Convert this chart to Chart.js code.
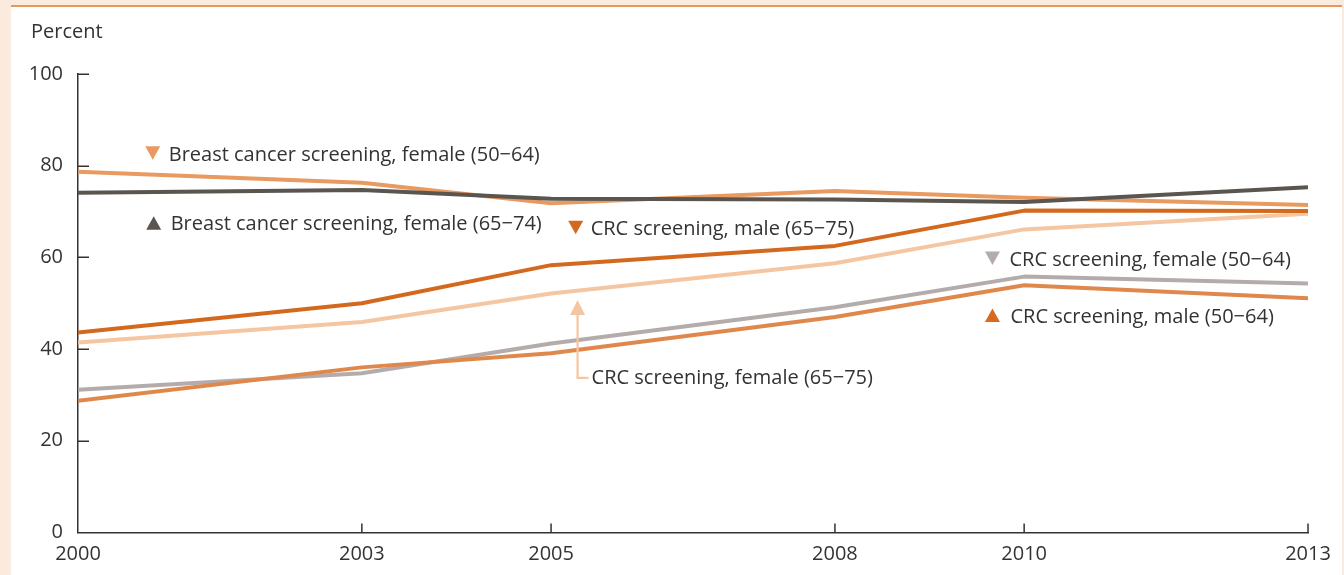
<!DOCTYPE html>
<html>
<head>
<meta charset="utf-8">
<title>Cancer screening rates, 2000–2013</title>
<script src="https://cdn.jsdelivr.net/npm/chart.js@4/dist/chart.umd.min.js"></script>
<style>
  html, body { margin: 0; padding: 0; background: #fbeade; }
  #wrap { width: 1344px; height: 575px; }
</style>
</head>
<body>
<div id="wrap"><canvas id="chart" width="1344" height="575"></canvas></div>
<script>
// Survey years and screening rates (percent)
const years = [2000, 2003, 2005, 2008, 2010, 2013];
const breastFemale50to64 = [78.7, 76.3, 71.8, 74.5, 73.0, 71.4];
const breastFemale65to74 = [74.1, 74.7, 72.8, 72.6, 72.1, 75.3];
const crcMale65to75      = [43.6, 50.0, 58.3, 62.5, 70.2, 70.1];
const crcFemale65to75    = [41.4, 45.9, 52.1, 58.7, 66.1, 69.5];
const crcFemale50to64    = [31.1, 34.7, 41.2, 49.1, 55.8, 54.3];
const crcMale50to64      = [28.7, 36.0, 39.1, 47.0, 53.9, 51.1];
const yTickValues = [0, 20, 40, 60, 80, 100];

const FONT = '"Open Sans", "Noto Sans", sans-serif';
const TEXT = '#333333';
const AXIS = '#333333';

const COLORS = {
  breast50: '#e89a60',
  breast65: '#5a554f',
  crcM65: '#d4691e',
  crcF65: '#f5c6a2',
  crcF50: '#b4acaa',
  crcM50: '#e0884c'
};

// Series labels placed beside the lines (anchor in data units: year, percent)
const seriesLabels = [
  { text: 'Breast cancer screening, female (50\u221264)', year: 2000.79, value: 82.75, marker: 'down', color: COLORS.breast50, gap: 16 },
  { text: 'Breast cancer screening, female (65\u221274)', year: 2000.80, value: 67.5,  marker: 'up',   color: COLORS.breast65, gap: 17 },
  { text: 'CRC screening, male (65\u221275)',             year: 2005.26, value: 66.5,  marker: 'down', color: COLORS.crcM65,  gap: 15 },
  { text: 'CRC screening, female (50\u221264)',           year: 2009.665, value: 59.8, marker: 'down', color: COLORS.crcF50,  gap: 17 },
  { text: 'CRC screening, male (50\u221264)',             year: 2009.665, value: 47.35, marker: 'up',  color: '#d86a20',      gap: 18 }
];
// Callout with an elbow arrow pointing up to its line
const callout = { text: 'CRC screening, female (65\u221275)', year: 2005.28, tipValue: 50.7, elbowValue: 33.7, color: COLORS.crcF65, gap: 14 };

const pagePlugin = {
  id: 'page',
  beforeDraw(chart) {
    const ctx = chart.ctx;
    ctx.save();
    ctx.fillStyle = '#fbeade';
    ctx.fillRect(0, 0, chart.width, chart.height);
    ctx.fillStyle = '#ffffff';
    ctx.fillRect(11, 7, 1331, chart.height - 7);
    ctx.fillStyle = '#e8965a';
    ctx.fillRect(11, 5, 1331, 2);
    ctx.fillStyle = TEXT;
    ctx.font = '20px ' + FONT;
    ctx.textAlign = 'left';
    ctx.textBaseline = 'alphabetic';
    ctx.fillText('Percent', 31, 38);
    ctx.restore();
  },
  afterDraw(chart) {
    const ctx = chart.ctx;
    const xs = chart.scales.x, ys = chart.scales.y;
    const area = chart.chartArea;
    ctx.save();
    // inward tick marks
    ctx.strokeStyle = AXIS;
    ctx.lineWidth = 1.5;
    ctx.beginPath();
    yTickValues.forEach(v => {
      const y = Math.round(ys.getPixelForValue(v)) + 0.25;
      if (v === 0) return;
      ctx.moveTo(area.left, y);
      ctx.lineTo(area.left + 11, y);
    });
    years.forEach(yr => {
      const x = xs.getPixelForValue(yr);
      if (yr === years[0]) return;
      ctx.moveTo(x, area.bottom);
      ctx.lineTo(x, area.bottom - 9);
    });
    ctx.stroke();

    // series labels with triangle markers
    ctx.font = '20px ' + FONT;
    ctx.textAlign = 'left';
    ctx.textBaseline = 'alphabetic';
    seriesLabels.forEach(l => {
      const cx = xs.getPixelForValue(l.year);
      const cy = ys.getPixelForValue(l.value);
      const w = 15, h = 13.5;
      ctx.fillStyle = l.color;
      ctx.beginPath();
      if (l.marker === 'down') {
        ctx.moveTo(cx - w / 2, cy - h / 2);
        ctx.lineTo(cx + w / 2, cy - h / 2);
        ctx.lineTo(cx, cy + h / 2);
      } else {
        ctx.moveTo(cx - w / 2, cy + h / 2);
        ctx.lineTo(cx + w / 2, cy + h / 2);
        ctx.lineTo(cx, cy - h / 2);
      }
      ctx.closePath();
      ctx.fill();
      ctx.fillStyle = TEXT;
      ctx.fillText(l.text, cx + l.gap, cy + 7.5);
    });

    // elbow arrow callout
    const ax = xs.getPixelForValue(callout.year);
    const tipY = ys.getPixelForValue(callout.tipValue);
    const elbowY = ys.getPixelForValue(callout.elbowValue);
    ctx.strokeStyle = callout.color;
    ctx.fillStyle = callout.color;
    ctx.lineWidth = 2.2;
    ctx.beginPath();
    ctx.moveTo(ax, tipY + 12);
    ctx.lineTo(ax, elbowY);
    ctx.lineTo(ax + 11, elbowY);
    ctx.stroke();
    ctx.beginPath();
    ctx.moveTo(ax, tipY);
    ctx.lineTo(ax + 7.5, tipY + 15);
    ctx.lineTo(ax - 7.5, tipY + 15);
    ctx.closePath();
    ctx.fill();
    ctx.fillStyle = TEXT;
    ctx.fillText(callout.text, ax + callout.gap, elbowY + 6);
    ctx.restore();
  }
};

function series(label, data, color, order) {
  return {
    label, order,
    data: data.map((v, i) => ({ x: years[i], y: v })),
    borderColor: color,
    backgroundColor: color,
    borderWidth: 4,
    pointRadius: 0,
    pointHoverRadius: 0,
    tension: 0,
    fill: false,
    borderJoinStyle: 'round',
    borderCapStyle: 'butt'
  };
}

new Chart(document.getElementById('chart'), {
  type: 'line',
  data: {
    datasets: [
      series('Breast cancer screening, female (65–74)', breastFemale65to74, COLORS.breast65, 1),
      series('Breast cancer screening, female (50–64)', breastFemale50to64, COLORS.breast50, 2),
      series('CRC screening, male (65–75)', crcMale65to75, COLORS.crcM65, 3),
      series('CRC screening, female (65–75)', crcFemale65to75, COLORS.crcF65, 4),
      series('CRC screening, female (50–64)', crcFemale50to64, COLORS.crcF50, 6),
      series('CRC screening, male (50–64)', crcMale50to64, COLORS.crcM50, 5)
    ]
  },
  options: {
    responsive: false,
    animation: false,
    devicePixelRatio: 1,
    layout: { padding: { top: 74, right: 36, left: 0, bottom: 0 } },
    plugins: { legend: { display: false }, tooltip: { enabled: false } },
    scales: {
      x: {
        type: 'linear',
        min: 2000, max: 2013,
        afterBuildTicks(scale) { scale.ticks = years.map(v => ({ value: v })); },
        afterFit(scale) { scale.height = 42.6; },
        grid: { display: false, drawTicks: false },
        border: { display: true, color: AXIS, width: 1.5 },
        ticks: {
          padding: 10,
          color: TEXT,
          font: { family: FONT, size: 20 },
          maxRotation: 0,
          autoSkip: false,
          callback: v => String(v)
        }
      },
      y: {
        min: 0, max: 100,
        afterBuildTicks(scale) { scale.ticks = yTickValues.map(v => ({ value: v })); },
        afterFit(scale) { scale.width = 78; },
        grid: { display: false, drawTicks: false },
        border: { display: true, color: AXIS, width: 1.5 },
        ticks: {
          padding: 15,
          color: TEXT,
          font: { family: FONT, size: 20 },
          callback: v => String(v)
        }
      }
    }
  },
  plugins: [pagePlugin]
});
</script>
</body>
</html>
